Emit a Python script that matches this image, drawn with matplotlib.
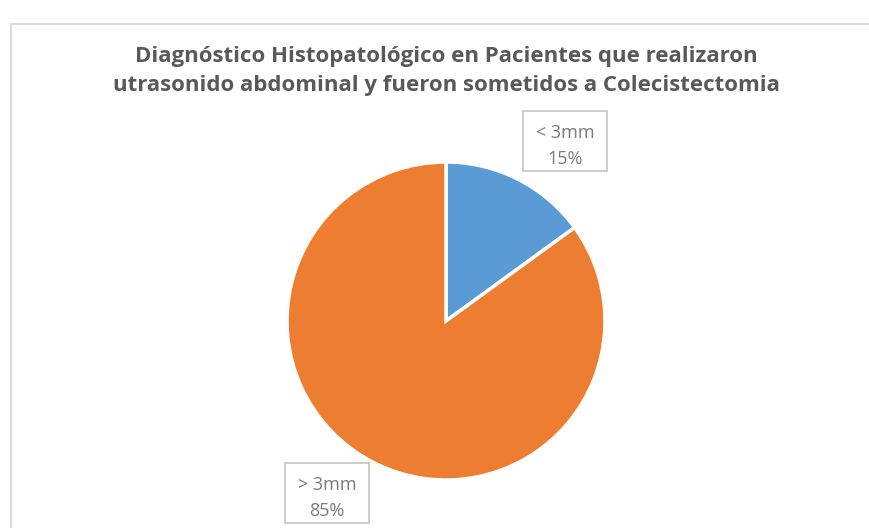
import matplotlib.pyplot as plt
from matplotlib.patches import Rectangle

# data
categories = ['< 3mm', '> 3mm']
shares = [15, 85]
colors = ['#5B9BD5', '#ED7D31']
title = ('Diagnóstico Histopatológico en Pacientes que realizaron\n'
         'utrasonido abdominal y fueron sometidos a Colecistectomia')

W, H = 869, 528
fig = plt.figure(figsize=(W / 100, H / 100), dpi=100)
ax = fig.add_axes([0, 0, 1, 1])
ax.set_xlim(0, W)
ax.set_ylim(0, H)
ax.axis('off')

# chart frame (cropped on right / bottom)
ax.add_patch(Rectangle((11, -10), W + 20, H - 24 + 10, fill=False,
                       edgecolor='#DADADA', linewidth=1.5))

wedges, _ = ax.pie(shares, colors=colors, startangle=90, counterclock=False,
                   center=(446, H - 321), radius=159,
                   wedgeprops=dict(edgecolor='white', linewidth=2.5))
ax.set_aspect('equal')
ax.set_xlim(0, W)
ax.set_ylim(0, H)

ax.text(446, H - 71, title, ha='center', va='center', fontsize=16,
        fontweight='bold', color='#595959', family='Open Sans',
        linespacing=1.45)

# data label boxes: (left, top) in pixels
box_w, box_h = 84, 60
label_boxes = [(523, 111), (285, 463)]
for (bx, by), cat, v in zip(label_boxes, categories, shares):
    ax.add_patch(Rectangle((bx, H - by - box_h), box_w, box_h,
                           facecolor='white', edgecolor='#C8C8C8',
                           linewidth=1.3, zorder=3))
    ax.text(bx + box_w / 2, H - by - 35, f'{cat}\n{v}%', ha='center',
            va='center', fontsize=13, color='#7A7A7A', family='Open Sans',
            linespacing=1.5, zorder=4)

fig.savefig('out.png', dpi=100)
